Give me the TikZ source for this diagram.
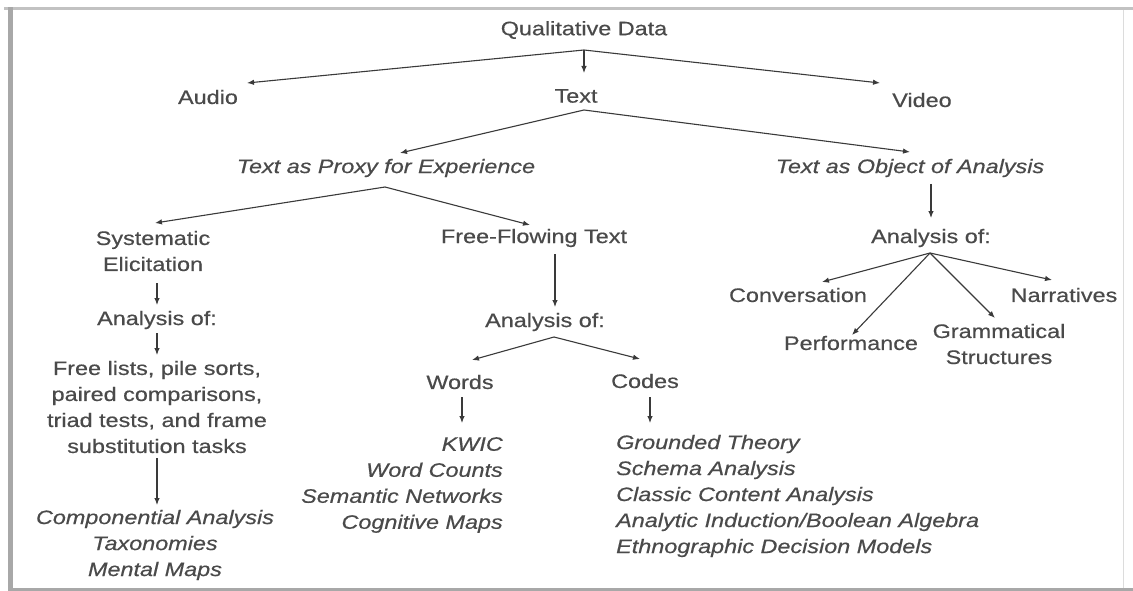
\documentclass[tikz,border=0pt]{standalone}
\usepackage{fontspec}
\setmainfont{Liberation Sans}[FakeStretch=1.2,FakeBold=0.5]
\usetikzlibrary{arrows.meta}
\definecolor{txt}{HTML}{4A4A4A}
\definecolor{ln}{HTML}{3A3A3A}
\definecolor{frm}{HTML}{A8A8A8}
\begin{document}
\begin{tikzpicture}[x=1pt,y=-1pt,
  lbl/.style={font=\fontsize{19.5}{26}\selectfont, text=txt, inner sep=0pt, align=center},
  itl/.style={lbl, font=\fontsize{19.5}{26}\selectfont\itshape},
  arr/.style={draw=ln, line width=1.1pt, -{Latex[length=7pt,width=5.5pt]}}]
\useasboundingbox[fill=white] (0,0) rectangle (1133,591);
% frame
\draw[frm!70, line width=3pt] (4,9) -- (1133,9);
\draw[frm, line width=5pt] (10,591) -- (10,7);
\draw[frm, line width=3pt] (8,589) -- (1133,589);
\draw[frm!40, line width=1pt] (1123,10) -- (1123,588);
% nodes
\node[lbl] (qd) at (584,30) {Qualitative Data};
\node[lbl] (audio) at (208,97) {Audio};
\node[lbl] (text) at (576,96) {Text};
\node[lbl] (video) at (922,100) {Video};
\node[itl] (proxy) at (386,168) {Text as Proxy for Experience};
\node[itl] (object) at (910,168) {Text as Object of Analysis};
\node[lbl] (syst) at (153,251) {Systematic\\Elicitation};
\node[lbl] (anl) at (157,320) {Analysis of:};
\node[lbl] (lists) at (157,407) {Free lists, pile sorts,\\paired comparisons,\\triad tests, and frame\\substitution tasks};
\node[itl] (comp) at (155,545) {Componential Analysis\\Taxonomies\\Mental Maps};
\node[lbl] (fft) at (534,238) {Free-Flowing Text};
\node[lbl] (anm) at (545,322) {Analysis of:};
\node[lbl] (words) at (460,382) {Words};
\node[lbl] (codes) at (645,381) {Codes};
\node[itl, align=right, anchor=east] (kwic) at (503,485) {KWIC\\Word Counts\\Semantic Networks\\Cognitive Maps};
\node[itl, align=left, anchor=west] (codelist) at (616,496) {Grounded Theory\\Schema Analysis\\Classic Content Analysis\\Analytic Induction/Boolean Algebra\\Ethnographic Decision Models};
\node[lbl] (anr) at (931,238) {Analysis of:};
\node[lbl] (conv) at (798,295) {Conversation};
\node[lbl] (narr) at (1064,295) {Narratives};
\node[lbl] (perf) at (851,343) {Performance};
\node[lbl] (gram) at (999,344) {Grammatical\\Structures};
% connector points
\coordinate (qd-s) at (584,50);
\coordinate (audio-t) at (247,83);
\coordinate (text-t) at (584,73);
\coordinate (video-t) at (880,83);
\coordinate (text-s) at (584,110);
\coordinate (proxy-t) at (400,153);
\coordinate (object-t) at (910,152);
\coordinate (object-s) at (931,184);
\coordinate (anr-t) at (931,218);
\coordinate (proxy-s) at (385,187);
\coordinate (syst-t) at (155,223);
\coordinate (fft-t) at (530,225);
\coordinate (syst-s) at (157,283);
\coordinate (anl-t) at (157,305);
\coordinate (anl-s) at (157,333);
\coordinate (lists-t) at (157,355);
\coordinate (lists-s) at (157,458);
\coordinate (comp-t) at (157,505);
\coordinate (fft-s) at (555,254);
\coordinate (anm-t) at (555,307);
\coordinate (anm-s) at (554,337);
\coordinate (words-t) at (472,360);
\coordinate (codes-t) at (640,359);
\coordinate (words-s) at (462,397);
\coordinate (kwic-t) at (462,423);
\coordinate (codes-s) at (650,397);
\coordinate (codelist-t) at (650,423);
\coordinate (anr-s) at (930,253);
\coordinate (conv-t) at (822,282);
\coordinate (perf-t) at (852,335);
\coordinate (gram-t) at (995,318);
\coordinate (narr-t) at (1052,280);
% connectors
\draw[arr] (qd-s) -- (audio-t);
\draw[arr] (qd-s) -- (text-t);
\draw[arr] (qd-s) -- (video-t);
\draw[arr] (text-s) -- (proxy-t);
\draw[arr] (text-s) -- (object-t);
\draw[arr] (object-s) -- (anr-t);
\draw[arr] (proxy-s) -- (syst-t);
\draw[arr] (proxy-s) -- (fft-t);
\draw[arr] (syst-s) -- (anl-t);
\draw[arr] (anl-s) -- (lists-t);
\draw[arr] (lists-s) -- (comp-t);
\draw[arr] (fft-s) -- (anm-t);
\draw[arr] (anm-s) -- (words-t);
\draw[arr] (anm-s) -- (codes-t);
\draw[arr] (words-s) -- (kwic-t);
\draw[arr] (codes-s) -- (codelist-t);
\draw[arr] (anr-s) -- (conv-t);
\draw[arr] (anr-s) -- (perf-t);
\draw[arr] (anr-s) -- (gram-t);
\draw[arr] (anr-s) -- (narr-t);
\end{tikzpicture}
\end{document}
